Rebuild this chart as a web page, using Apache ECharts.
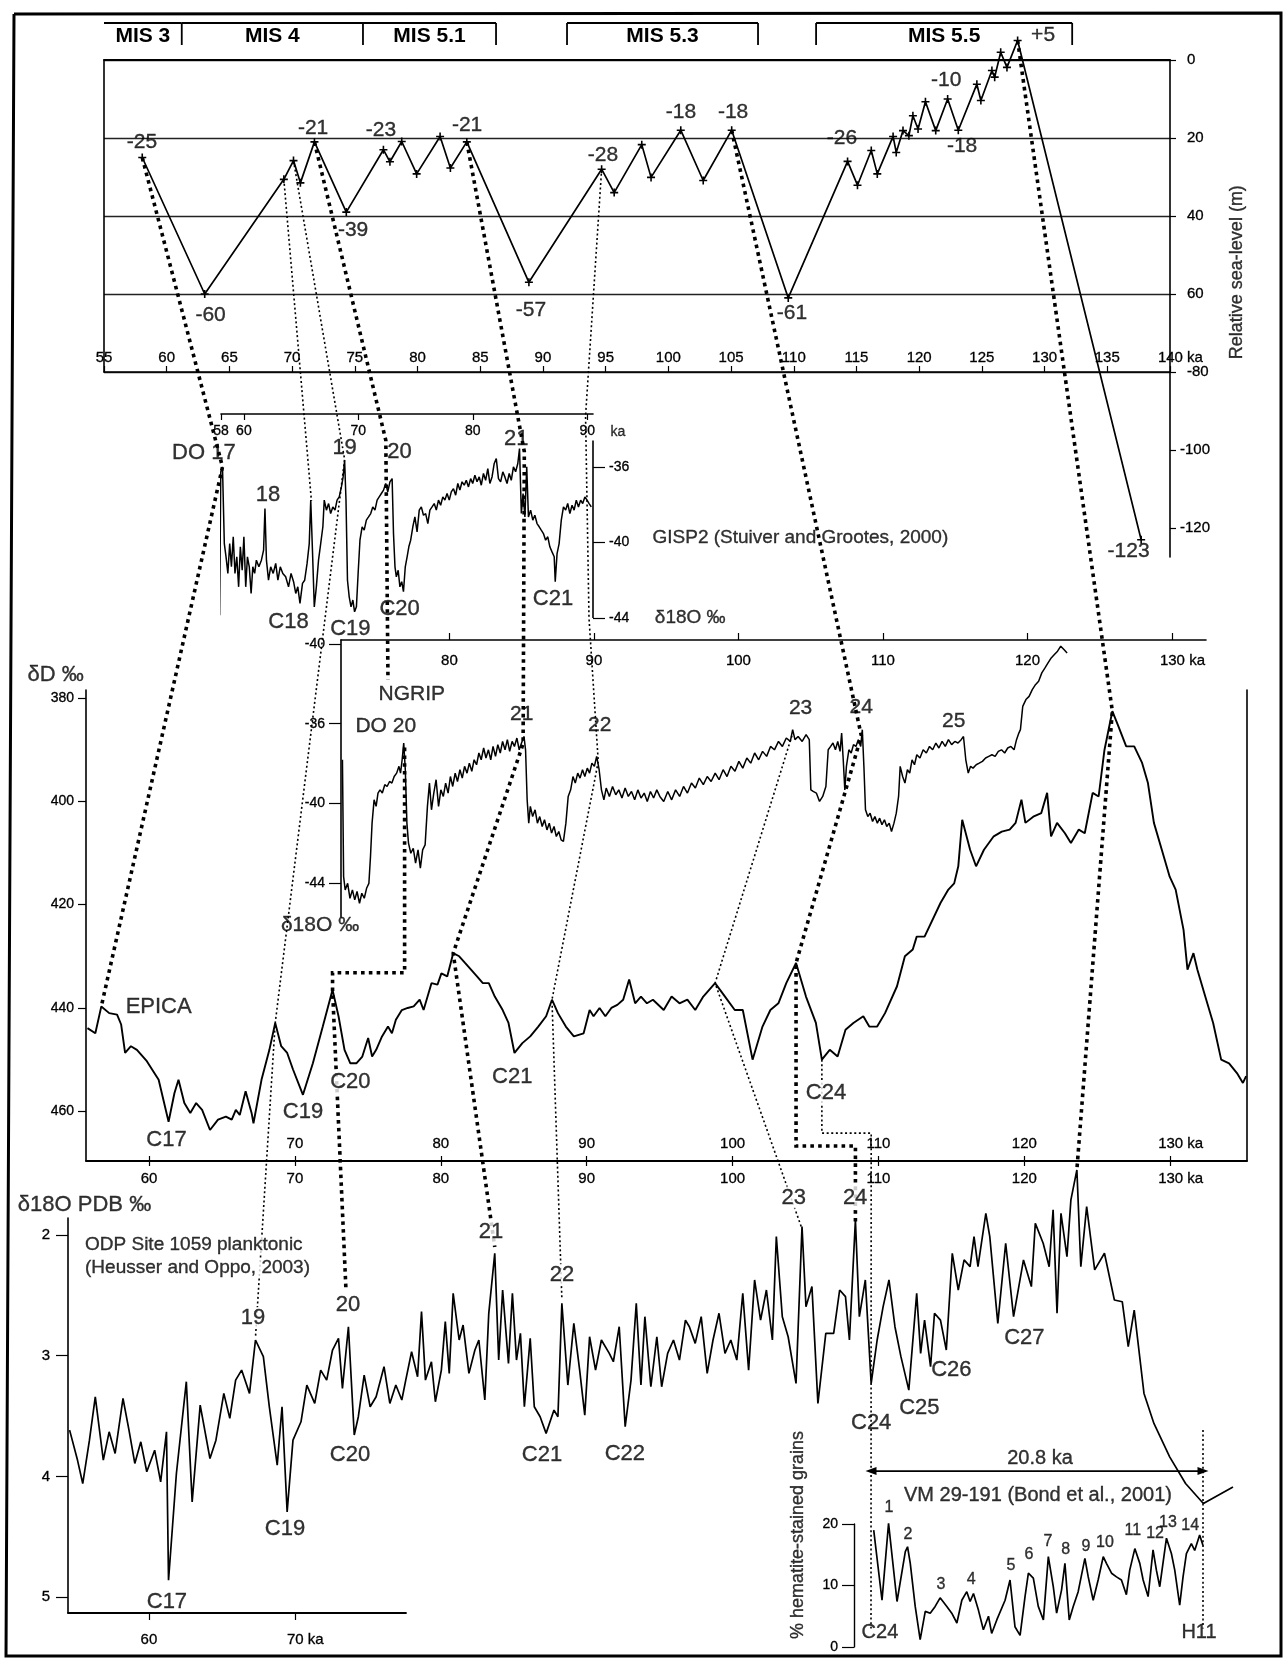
<!DOCTYPE html>
<html><head><meta charset="utf-8">
<script src="https://cdn.jsdelivr.net/npm/echarts@6.0.0/dist/echarts.min.js"></script>
<style>html,body{margin:0;padding:0;background:#fff}#c{width:1284px;height:1659px}</style>
</head><body><div id="c"></div>
<script>
// ---------------- DATA ----------------
// MIS header
const misName = ['MIS 3','MIS 4','MIS 5.1','MIS 5.3','MIS 5.5'];
const misStart = [55, 61.2, 75.65, 91.92, 111.78];
const misEnd = [61.2, 75.65, 86.26, 107.15, 132.2];
const misLeftTick = [0,0,0,1,1];
const misRightTick = [1,1,1,1,1];

// Relative sea level (ka, m)
const seaAge = [58.05,63.03,69.34,70.11,70.66,71.78,74.32,77.28,77.80,78.74,79.93,81.80,82.62,83.93,88.88,94.68,95.68,97.88,98.62,100.99,102.78,105.05,109.56,114.29,115.08,116.18,116.66,117.92,118.17,118.71,119.18,119.50,119.91,120.50,121.32,122.27,123.12,124.60,124.92,125.80,126.02,126.50,127.00,127.85,137.7];
const seaLevel = [-25,-60,-30.6,-25.8,-31.5,-21,-39,-23,-26.1,-20.9,-29.2,-19.6,-27.7,-21,-57,-28,-34,-21.7,-30.1,-18,-30.9,-18,-61,-26,-32.1,-23.2,-29.2,-19.6,-23.7,-18.1,-19.4,-14.3,-17.7,-10.7,-18.1,-10,-18,-6.2,-10.4,-2.7,-4.4,2.0,-1.9,5,-123];
const seaRightTicks = [-100,-120];
const seaNotes = [[58.03,-21.0,'-25'],[63.5,-65.4,'-60'],[71.67,-17.4,'-21'],[74.86,-43.6,'-39'],[77.09,-17.9,'-23'],[83.95,-16.7,'-21'],[89.05,-64.1,'-57'],[94.79,-24.4,'-28'],[101.0,-13.3,'-18'],[105.16,-13.3,'-18'],[109.86,-64.9,'-61'],[113.85,-20.0,'-26'],[122.16,-5.1,'-10'],[123.42,-22.2,'-18'],[129.88,6.4,'+5']];
const seaExtNotes = [[136.7,-126.1,'-123']];
const seaTitle = [[145.35,-54.4,'Relative sea-level (m)']];

// GISP2 δ18O (ka, ‰)
const gisp2 = [[57.88,-43.85],[57.98,-36.26],[58.13,-36.0],[58.29,-40.06],[58.44,-40.76],[58.60,-41.64],[58.76,-40.06],[58.91,-41.29],[59.07,-39.70],[59.22,-41.64],[59.38,-40.76],[59.54,-42.35],[59.69,-40.23],[59.85,-41.47],[60.00,-39.70],[60.16,-42.35],[60.31,-40.76],[60.47,-41.29],[60.63,-42.70],[60.78,-41.29],[60.94,-41.64],[61.09,-40.94],[61.31,-41.29],[61.53,-40.94],[61.72,-40.41],[61.84,-38.20],[61.97,-40.94],[62.15,-42.00],[62.34,-41.29],[62.56,-41.64],[62.78,-41.11],[62.97,-42.00],[63.18,-41.29],[63.40,-41.64],[63.65,-41.82],[63.90,-42.35],[64.12,-41.64],[64.34,-42.08],[64.53,-42.70],[64.71,-42.35],[64.90,-43.23],[65.12,-42.17],[65.31,-42.00],[65.52,-41.11],[65.71,-40.06],[65.84,-37.76],[65.99,-40.41],[66.15,-43.41],[66.33,-42.35],[66.52,-40.94],[66.71,-40.06],[66.90,-39.17],[67.02,-37.76],[67.21,-38.29],[67.40,-37.94],[67.58,-38.47],[67.77,-38.12],[67.96,-38.29],[68.14,-37.76],[68.33,-37.59],[68.52,-37.06],[68.67,-36.53],[68.80,-35.65],[68.92,-37.76],[69.05,-42.00],[69.20,-42.88],[69.36,-43.41],[69.52,-43.05],[69.67,-43.67],[69.83,-43.41],[69.98,-41.64],[70.14,-39.88],[70.33,-39.17],[70.51,-39.35],[70.70,-38.82],[70.89,-38.65],[71.08,-38.47],[71.26,-38.12],[71.45,-38.29],[71.64,-37.76],[71.82,-37.59],[72.01,-37.41],[72.20,-37.23],[72.39,-36.88],[72.57,-37.32],[72.76,-36.79],[72.95,-36.62],[73.07,-39.53],[73.20,-41.29],[73.32,-41.82],[73.48,-41.47],[73.63,-42.35],[73.79,-42.08],[73.94,-42.61],[74.10,-41.29],[74.26,-40.76],[74.41,-40.23],[74.57,-39.88],[74.76,-39.17],[74.94,-38.65],[75.13,-39.44],[75.32,-38.29],[75.50,-38.12],[75.69,-38.56],[75.88,-38.47],[76.07,-39.00],[76.25,-38.29],[76.44,-38.12],[76.63,-37.94],[76.81,-38.29],[77.00,-37.76],[77.19,-38.03],[77.38,-37.59],[77.56,-37.76],[77.75,-37.41],[77.94,-37.76],[78.12,-37.32],[78.31,-37.15],[78.50,-37.50],[78.69,-36.88],[78.87,-37.23],[79.06,-36.79],[79.25,-36.97],[79.43,-36.71],[79.62,-37.06],[79.81,-36.62],[79.99,-36.88],[80.18,-36.44],[80.37,-36.79],[80.56,-36.53],[80.74,-36.97],[80.93,-36.35],[81.12,-36.71],[81.31,-36.09],[81.49,-36.88],[81.68,-36.53],[81.87,-35.82],[82.05,-35.56],[82.24,-36.62],[82.43,-36.79],[82.62,-36.26],[82.80,-36.53],[82.99,-36.88],[83.18,-36.35],[83.36,-36.71],[83.55,-36.0],[83.74,-36.26],[83.93,-35.82],[84.08,-35.03],[84.24,-38.47],[84.39,-37.41],[84.55,-38.65],[84.71,-36.0],[84.86,-38.65],[85.05,-38.29],[85.24,-38.82],[85.42,-38.56],[85.61,-39.00],[85.80,-39.17],[85.98,-39.35],[86.17,-39.53],[86.36,-39.88],[86.55,-39.70],[86.73,-40.23],[86.92,-40.50],[87.11,-40.76],[87.20,-42.08],[87.36,-40.59],[87.54,-40.06],[87.73,-38.82],[87.92,-38.12],[88.11,-38.29],[88.29,-37.94],[88.48,-38.47],[88.67,-38.03],[88.85,-38.29],[89.04,-37.76],[89.23,-38.12],[89.42,-37.76],[89.60,-37.94],[89.79,-37.59],[89.98,-37.76],[90.16,-37.94],[90.35,-38.12]];
const gispTicksX = [58,60,70,80,90];
const gispTicksY = [-36,-40,-44];
const gispNotes = [[56.5,-35.26,'DO 17'],[62.1,-37.5,'18'],[68.8,-35.0,'19'],[73.6,-35.2,'20'],[83.8,-34.5,'21'],[63.9,-44.2,'C18'],[69.3,-44.6,'C19'],[73.6,-43.5,'C20'],[87.0,-43.0,'C21']];
const gispUnit = [[92.67,-34.15,'ka']];
const gispSource = [[95.7,-39.76,'GISP2 (Stuiver and Grootes, 2000)'],[95.9,-44.0,'δ18O ‰']];

// NGRIP δ18O (ka, ‰)
const ngrip = [[72.60,-37.81],[72.68,-43.67],[72.79,-44.34],[72.96,-44.01],[73.12,-44.76],[73.29,-44.34],[73.45,-44.84],[73.61,-44.42],[73.78,-45.01],[73.94,-44.51],[74.11,-44.76],[74.27,-44.26],[74.43,-44.01],[74.54,-42.67],[74.65,-40.99],[74.79,-39.82],[74.93,-40.15],[75.06,-39.48],[75.20,-39.32],[75.36,-39.48],[75.53,-39.06],[75.69,-39.15],[75.86,-38.90],[76.02,-38.98],[76.18,-38.65],[76.35,-38.48],[76.51,-38.14],[76.62,-38.48],[76.73,-37.81],[76.84,-36.97],[76.95,-38.31],[77.06,-40.99],[77.17,-41.99],[77.33,-42.50],[77.50,-42.25],[77.66,-43.00],[77.83,-42.33],[77.99,-43.25],[78.15,-42.33],[78.32,-42.08],[78.48,-40.15],[78.62,-38.98],[78.76,-40.32],[78.92,-39.48],[79.08,-38.81],[79.25,-40.15],[79.41,-39.32],[79.58,-39.65],[79.74,-38.98],[79.91,-39.48],[80.07,-38.65],[80.23,-39.15],[80.40,-38.48],[80.56,-38.90],[80.73,-38.31],[80.89,-38.73],[81.05,-38.14],[81.22,-38.48],[81.38,-37.98],[81.55,-38.39],[81.71,-37.81],[81.88,-38.06],[82.04,-37.47],[82.20,-37.81],[82.37,-37.22],[82.53,-37.72],[82.70,-37.31],[82.86,-37.81],[83.02,-37.14],[83.19,-37.64],[83.35,-37.05],[83.52,-37.47],[83.68,-36.89],[83.85,-37.31],[84.01,-36.80],[84.17,-37.39],[84.34,-36.89],[84.50,-37.14],[84.67,-36.72],[84.83,-37.31],[84.99,-36.97],[85.16,-36.64],[85.27,-37.31],[85.38,-39.82],[85.49,-40.99],[85.60,-40.15],[85.76,-40.66],[85.93,-40.32],[86.09,-40.99],[86.25,-40.66],[86.42,-41.16],[86.58,-40.82],[86.75,-41.33],[86.91,-40.99],[87.07,-41.49],[87.24,-41.16],[87.40,-41.66],[87.57,-41.41],[87.73,-41.83],[87.89,-41.91],[88.06,-40.99],[88.22,-39.65],[88.39,-39.32],[88.55,-38.65],[88.71,-38.98],[88.88,-38.48],[89.04,-38.73],[89.21,-38.31],[89.37,-38.65],[89.54,-38.23],[89.70,-38.48],[89.86,-37.98],[90.03,-38.14],[90.19,-37.64],[90.36,-38.31],[90.52,-39.32],[90.69,-39.82],[90.85,-39.23],[91.07,-39.65],[91.29,-39.15],[91.51,-39.57],[91.72,-39.32],[91.94,-39.73],[92.16,-39.23],[92.38,-39.65],[92.60,-39.40],[92.82,-39.82],[93.04,-39.32],[93.26,-39.73],[93.48,-39.48],[93.69,-39.90],[93.91,-39.40],[94.13,-39.73],[94.35,-39.32],[94.56,-39.65],[94.83,-39.90],[95.11,-39.40],[95.38,-39.82],[95.65,-39.32],[95.93,-39.65],[96.20,-39.15],[96.47,-39.48],[96.75,-38.98],[97.02,-39.23],[97.29,-38.73],[97.57,-39.06],[97.84,-38.65],[98.11,-38.90],[98.39,-38.48],[98.66,-38.81],[98.94,-38.31],[99.21,-38.65],[99.48,-38.14],[99.76,-38.39],[100.03,-37.89],[100.30,-38.23],[100.58,-37.72],[100.85,-37.98],[101.12,-37.47],[101.40,-37.81],[101.67,-37.39],[101.95,-37.64],[102.22,-37.14],[102.49,-37.31],[102.77,-36.89],[103.04,-37.14],[103.31,-36.72],[103.59,-36.89],[103.75,-36.30],[103.91,-36.80],[104.13,-36.64],[104.41,-36.89],[104.68,-36.55],[104.90,-36.80],[105.01,-39.32],[105.17,-39.40],[105.39,-39.48],[105.61,-39.90],[105.83,-39.65],[106.05,-39.15],[106.21,-37.31],[106.38,-37.14],[106.54,-36.97],[106.71,-37.31],[106.87,-36.89],[107.03,-37.39],[107.14,-36.47],[107.25,-37.81],[107.36,-39.32],[107.47,-38.14],[107.64,-37.31],[107.80,-37.47],[107.96,-37.05],[108.13,-37.14],[108.29,-36.80],[108.46,-37.14],[108.57,-36.30],[108.68,-38.14],[108.79,-40.32],[108.95,-40.66],[109.11,-40.49],[109.28,-40.91],[109.44,-40.66],[109.61,-40.99],[109.77,-40.74],[109.93,-41.07],[110.10,-40.82],[110.26,-41.16],[110.43,-40.99],[110.59,-41.41],[110.76,-40.99],[110.92,-40.49],[111.08,-39.65],[111.19,-38.14],[111.36,-38.65],[111.52,-38.98],[111.69,-38.31],[111.85,-38.48],[112.01,-37.81],[112.18,-38.06],[112.34,-37.56],[112.56,-37.72],[112.78,-37.31],[113.00,-37.47],[113.22,-37.14],[113.44,-37.31],[113.66,-36.97],[113.87,-37.22],[114.09,-36.89],[114.31,-37.14],[114.53,-36.80],[114.75,-37.05],[114.97,-36.89],[115.19,-36.97],[115.41,-36.80],[115.57,-36.64],[115.73,-37.81],[115.90,-38.48],[116.06,-38.14],[116.23,-38.23],[116.45,-38.06],[116.66,-37.98],[116.88,-37.89],[117.10,-37.72],[117.32,-37.64],[117.54,-37.56],[117.76,-37.64],[117.98,-37.39],[118.20,-37.31],[118.42,-37.47],[118.63,-37.22],[118.85,-37.14],[119.07,-37.31],[119.24,-36.80],[119.40,-36.47],[119.51,-36.30],[119.67,-35.13],[119.89,-34.79],[120.11,-34.63],[120.33,-34.29],[120.55,-34.04],[120.77,-33.87],[120.99,-33.45],[121.21,-33.20],[121.42,-32.95],[121.64,-32.70],[121.86,-32.53],[122.08,-32.36],[122.30,-32.11],[122.52,-32.28],[122.74,-32.45]];
const ngripTicksX = [80,90,100,110,120,130];
const ngripTicksY = [-32,-36,-40,-44];
const ngripTickText = ['-40','-36','-40','-44'];
const ngripNotes = [[77.4,-34.5,'NGRIP'],[75.6,-36.15,'DO 20'],[85.0,-35.5,'21'],[90.4,-36.1,'22'],[104.3,-35.2,'23'],[108.5,-35.15,'24'],[114.9,-35.85,'25'],[71.05,-46.1,'δ18O ‰']];

// EPICA δD (ka, ‰)
const epica = [[55.78,443.9],[56.32,444.9],[56.73,439.7],[57.27,441.0],[57.81,441.3],[58.09,443.2],[58.36,448.7],[58.76,447.4],[59.17,448.1],[59.85,450.3],[60.66,453.9],[61.34,462.0],[61.74,456.5],[62.02,453.9],[62.42,458.4],[62.83,460.3],[63.23,458.4],[63.64,459.7],[64.18,463.6],[64.73,461.6],[65.27,461.0],[65.67,461.6],[65.95,459.7],[66.22,460.7],[66.62,456.1],[67.03,460.3],[67.16,462.3],[67.71,453.9],[68.25,448.1],[68.65,442.9],[69.06,447.4],[69.47,448.7],[69.87,451.9],[70.55,456.8],[71.23,450.7],[71.91,443.6],[72.58,436.5],[72.99,441.6],[73.40,448.1],[73.80,450.7],[74.21,450.7],[74.62,449.4],[75.02,445.8],[75.29,449.4],[75.57,448.1],[75.97,445.5],[76.38,443.6],[76.65,444.9],[76.92,442.3],[77.33,440.4],[77.73,440.0],[78.14,439.7],[78.55,438.4],[78.82,440.4],[79.36,435.2],[79.77,435.5],[80.04,433.3],[80.44,433.9],[80.85,429.4],[81.26,430.0],[81.66,431.3],[82.07,432.6],[82.48,433.9],[82.88,435.2],[83.29,435.2],[83.70,437.8],[84.24,440.4],[84.64,442.9],[85.05,448.7],[85.59,446.8],[86.13,445.5],[86.68,443.6],[87.22,441.6],[87.62,438.4],[88.03,441.0],[88.57,443.6],[89.12,445.5],[89.79,444.9],[90.20,440.4],[90.47,441.6],[90.88,440.0],[91.28,441.6],[91.69,440.0],[92.10,439.4],[92.50,438.4],[92.91,434.5],[93.32,439.1],[93.72,437.8],[94.13,439.1],[94.54,438.4],[95.28,440.4],[95.82,437.8],[96.36,439.1],[96.90,438.4],[97.44,440.4],[97.99,437.8],[98.80,435.2],[99.48,437.8],[100.15,440.4],[100.70,440.4],[101.37,450.0],[102.05,443.6],[102.59,440.4],[103.14,439.1],[103.68,435.2],[104.35,431.3],[105.03,437.8],[105.71,442.9],[106.12,450.0],[106.66,448.1],[107.20,449.4],[107.74,444.2],[108.28,442.9],[108.96,441.6],[109.37,443.6],[109.91,443.6],[110.45,441.0],[111.27,435.8],[111.81,430.0],[112.35,428.7],[112.62,426.2],[113.16,426.2],[114.25,419.7],[114.79,417.1],[115.19,415.9],[115.47,412.6],[115.74,403.6],[116.28,409.4],[116.69,412.6],[117.23,409.4],[117.90,406.8],[118.45,405.9],[118.99,405.5],[119.40,404.2],[119.80,399.7],[120.07,404.2],[120.61,403.0],[121.16,402.3],[121.56,398.4],[121.83,406.8],[122.24,404.2],[122.78,406.2],[123.19,408.1],[123.73,405.5],[124.14,406.2],[124.68,398.4],[125.09,399.1],[125.49,390.1],[126.03,382.6],[126.44,385.5],[126.98,389.4],[127.53,389.4],[128.07,392.6],[128.47,396.5],[128.88,404.2],[129.42,409.4],[129.96,414.6],[130.37,417.1],[130.91,424.9],[131.18,432.6],[131.59,429.4],[131.86,432.6],[132.40,437.8],[132.94,442.9],[133.49,450.0],[134.03,450.7],[134.57,452.6],[134.98,454.5],[135.2,453.2]];
const epicaTicksY = [380,400,420,440,460];
const epicaTicksUpper = [70,80,90,100,110,120,130];
const epicaTicksLower = [60,70,80,90,100,110,120,130];
const epicaNotes = [[60.66,439.8,'EPICA'],[61.2,465.5,'C17'],[70.55,460.1,'C19'],[84.9,453.3,'C21'],[53.6,375.6,'δD ‰']];
const epicaNotesBg = [[73.8,454.3,'C20'],[106.4,456.4,'C24']];

// ODP Site 1059 planktonic δ18O (ka, ‰ PDB)
const odp = [[54.56,3.616],[55.10,3.864],[55.46,4.058],[55.92,3.699],[56.32,3.340],[56.87,3.864],[57.27,3.630],[57.68,3.809],[58.22,3.354],[58.63,3.616],[59.03,3.892],[59.44,3.713],[59.85,3.961],[60.39,3.782],[60.80,4.044],[61.20,3.630],[61.34,4.859],[61.88,3.975],[62.56,3.215],[62.96,4.210],[63.51,3.409],[64.18,3.851],[64.59,3.699],[65.13,3.312],[65.54,3.519],[65.94,3.202],[66.35,3.119],[66.89,3.312],[67.30,2.870],[67.84,3.008],[68.25,3.423],[68.79,3.906],[69.12,3.423],[69.47,4.293],[69.87,3.699],[70.42,3.547],[70.82,3.243],[71.36,3.395],[71.77,3.119],[72.18,3.202],[72.58,2.953],[72.99,2.856],[73.26,3.271],[73.67,2.760],[74.07,3.657],[74.35,3.505],[74.75,3.160],[75.16,3.423],[75.57,3.340],[76.11,3.091],[76.51,3.395],[76.92,3.243],[77.33,3.367],[77.60,3.202],[78.00,2.967],[78.41,3.174],[78.68,2.635],[78.95,3.202],[79.36,3.050],[79.63,3.381],[80.04,3.119],[80.31,2.718],[80.58,3.146],[80.85,2.484],[81.26,2.870],[81.53,2.746],[81.93,3.146],[82.34,2.953],[82.61,2.870],[83.02,3.367],[83.29,2.649],[83.70,2.152],[83.97,3.036],[84.24,2.456],[84.64,3.064],[84.91,2.484],[85.19,3.036],[85.46,2.815],[85.73,3.423],[86.13,2.856],[86.41,3.423],[86.81,3.505],[87.22,3.643],[87.76,3.450],[88.03,3.505],[88.30,2.566],[88.71,3.243],[89.12,2.732],[89.52,3.119],[89.87,3.492],[90.20,2.843],[90.61,3.119],[91.01,2.870],[91.55,2.981],[91.83,3.050],[92.23,2.760],[92.64,3.588],[93.04,3.202],[93.40,2.566],[93.72,3.243],[93.99,2.677],[94.40,3.257],[94.81,2.843],[95.14,3.257],[95.55,2.981],[95.95,2.870],[96.36,3.036],[96.77,2.705],[97.04,2.760],[97.44,2.898],[97.85,2.677],[98.26,3.146],[98.66,2.870],[99.07,2.649],[99.48,2.981],[99.88,2.870],[100.29,3.036],[100.70,2.484],[101.10,3.119],[101.51,2.373],[101.92,2.705],[102.32,2.456],[102.73,2.870],[103.00,2.014],[103.41,2.677],[103.81,2.843],[104.35,3.229],[104.76,1.931],[105.03,2.594],[105.44,2.428],[105.85,3.395],[106.39,2.815],[106.93,2.815],[107.34,2.456],[107.74,2.511],[108.01,2.870],[108.42,1.876],[108.69,2.677],[109.10,2.373],[109.50,3.229],[109.91,2.870],[110.32,2.594],[110.72,2.373],[111.13,2.760],[111.54,3.008],[112.08,3.285],[112.62,2.484],[112.89,2.981],[113.16,2.705],[113.57,3.091],[113.84,2.649],[114.25,2.705],[114.65,2.953],[115.06,2.152],[115.47,2.456],[115.87,2.207],[116.28,2.263],[116.55,2.014],[116.82,2.263],[117.36,1.821],[117.63,2.014],[118.18,2.732],[118.72,2.069],[119.26,2.677],[119.94,2.207],[120.48,2.428],[120.75,1.904],[121.29,2.069],[121.70,2.263],[121.97,1.793],[122.24,2.649],[122.51,1.821],[122.92,2.180],[123.19,1.710],[123.60,1.462],[123.87,2.263],[124.27,1.765],[124.82,2.290],[125.49,2.152],[126.17,2.539],[126.71,2.553],[127.12,2.925],[127.53,2.622],[128.20,3.312],[128.88,3.561],[129.96,3.837],[131.05,4.058],[132.27,4.224],[134.30,4.086]];
const odpTicksY = [2,3,4,5];
const odpTicksBottom = [60,70];
const odpNotes = [[61.23,5.04,'C17'],[69.32,4.43,'C19'],[73.78,3.82,'C20'],[86.94,3.82,'C21'],[92.62,3.81,'C22'],[109.5,3.56,'C24'],[112.8,3.43,'C25'],[115.0,3.12,'C26'],[120.0,2.85,'C27'],[55.58,1.75,'δ18O PDB ‰']];
const odpPeakNotes = [[67.13,2.688,'19'],[73.64,2.58,'20'],[83.44,1.975,'21'],[88.31,2.33,'22'],[104.2,1.69,'23'],[108.4,1.69,'24']];
const odpSource = [[55.48,2.083,'ODP Site 1059 planktonic'],[55.48,2.273,'(Heusser and Oppo, 2003)']];

// VM 29-191 hematite-stained grains (ka after C24, %)
const vm = [[0.17,19.0],[0.69,7.6],[1.10,20.1],[1.63,7.4],[2.15,15.5],[2.29,16.3],[2.46,13.6],[2.77,6.6],[3.08,1.2],[3.40,5.8],[3.71,5.5],[4.02,6.6],[4.33,8.0],[4.75,6.6],[5.06,5.5],[5.38,3.9],[5.69,7.6],[6.00,9.0],[6.21,7.4],[6.42,8.7],[6.73,6.0],[7.04,2.8],[7.36,5.0],[7.56,2.2],[7.88,4.4],[8.40,7.6],[8.71,10.9],[9.02,3.3],[9.34,1.9],[9.65,8.2],[9.86,12.0],[10.17,11.2],[10.48,6.6],[10.80,4.4],[11.11,14.7],[11.42,9.8],[11.63,5.5],[11.94,9.3],[12.15,13.6],[12.42,4.4],[12.67,6.6],[12.98,9.0],[13.40,14.4],[13.61,11.4],[13.92,7.6],[14.23,10.9],[14.55,14.7],[14.75,13.6],[15.07,12.0],[15.38,11.4],[15.69,10.9],[16.00,8.5],[16.21,12.5],[16.53,16.0],[16.84,13.6],[17.05,10.9],[17.36,8.2],[17.67,15.8],[17.88,12.5],[18.09,9.8],[18.51,17.7],[18.82,15.2],[19.03,12.5],[19.34,6.8],[19.55,11.4],[19.76,15.2],[20.07,16.8],[20.28,15.7],[20.59,18.2],[20.8,16.5]];
const vmSpan = [0, 20.8];
const vmSpanLevel = 28.6;
const vmNotes = [[10.59,30.7,'20.8 ka'],[10.46,24.7,'VM 29-191 (Bond et al., 2001)'],[0.56,2.3,'C24'],[20.55,2.3,'H11']];
const vmPeakNotes = [[1.13,22.6,'1'],[2.32,18.2,'2'],[4.39,10.1,'3'],[6.27,10.9,'4'],[8.77,13.3,'5'],[9.9,15.0,'6'],[11.09,17.1,'7'],[12.2,15.8,'8'],[13.47,16.3,'9'],[14.66,16.9,'10'],[16.4,19.0,'11'],[17.8,18.5,'12'],[18.6,20.2,'13'],[20.0,19.8,'14']];
const vmTitle = [[-4.57,18.2,'% hematite-stained grains']];

// Correlation tie lines: [panel, x, y]
const heavyLinks = [
 [['sea',58.05,-25],['gisp',58.13,-36.0],['epica',56.73,439.7]],
 [['sea',71.78,-21],['gisp',72.4,-34.6],['ngrip',75.75,-33.8]],
 [['ngrip',76.9,-37.2],['epica',77.52,433.2],['epica',72.58,433.2],['epica',72.58,436.5],['odp',73.5,2.45]],
 [['sea',83.93,-21],['gisp',84.5,-35.2],['ngrip',85.1,-37.0],['epica',80.85,429.4],['odp',83.7,2.1]],
 [['sea',105.05,-18],['ngrip',108.5,-36.6],['epica',104.35,431.3],['epica',104.35,466.7],['epica',108.42,466.7],['odp',108.42,1.9]],
 [['sea',127.85,5],['epica',126.03,382.6],['odp',123.6,1.46]]
];
const thinLinks = [
 [['sea',69.34,-30.6],['gisp',65.9,-37.8]],
 [['sea',70.11,-25.8],['gisp',68.8,-35.6],['epica',68.65,442.9],['odp',67.3,2.85]],
 [['sea',94.68,-28],['gisp',89.85,-33.3],['gisp',90.15,-44],['ngrip',90.3,-37.9],['epica',87.62,438.4],['odp',88.3,2.53]],
 [['ngrip',103.7,-36.6],['epica',98.8,435.2],['odp',104.76,1.95]],
 [['epica',106.12,450],['epica',106.12,464.2],['epica',109.5,464.2],['vm',0,3]],
 [['vm',20.8,35.3],['vm',20.8,3]]
];

// ---------------- CHART ----------------
const FONT = 'Liberation Sans, Arial, sans-serif';
const K = '#000';
const chart = echarts.init(document.getElementById('c'), null, {renderer:'canvas', width:1284, height:1659});

const lineSt = (w) => ({color:K, width:w||1.4});
function g(left, top, width, height){ return {left, top, width, height, containLabel:false, outerBoundsMode:'none'}; }
function hiddenX(gi, min, max){ return {type:'value', gridIndex:gi, min, max, show:false}; }
function hiddenY(gi, min, max, inv){ return {type:'value', gridIndex:gi, min, max, inverse:!!inv, show:false}; }
const lab = (size, extra) => Object.assign({show:true, color:K, fontFamily:FONT, fontSize:size||15, textBorderColor:K, textBorderWidth:0.3}, extra||{});
function kaFmt(last){ return v => v===last ? '     ' + v + ' ka' : String(v); }

function notes(arr, xi, yi, o){
  o = o || {};
  return {type:'scatter', xAxisIndex:xi, yAxisIndex:yi, symbol:'circle', symbolSize:1, clip:false, silent:true, z:6,
    itemStyle:{color:'rgba(0,0,0,0)'}, emphasis:{disabled:true},
    data: arr.map(d => ({name:d[2], value:[d[0], d[1]]})),
    label:{show:true, position:'inside', formatter:p => p.name, color:K, fontFamily:FONT,
      fontSize:o.size||22, fontWeight:o.weight||'normal', align:o.align||'center', verticalAlign:'middle',
      textBorderColor:K, textBorderWidth:0.35,
      rotate:o.rotate||0, backgroundColor:o.bg||'transparent', padding:o.bg?[0,2,0,2]:0}};
}

const option = {
  animation:false,
  backgroundColor:'#fff',
  grid:[
    g(104,23,1066,22),     // 0 MIS header
    g(104,60,1066,312),    // 1 sea level
    g(104,372,1066,185),   // 2 sea level extension
    g(221,414,372,204),    // 3 GISP2
    g(341,640,865,277),    // 4 NGRIP
    g(86,690,1161,471),    // 5 EPICA
    g(68,1218,1179,395),   // 6 ODP
    g(68,1218,338,395),    // 7 ODP bottom axis
    g(871,1524,332,123)    // 8 VM 29-191
  ],
  xAxis:[
    hiddenX(0,55,140),
    {type:'value', gridIndex:1, min:55, max:140, interval:5, position:'bottom',
      axisLine:{show:true, onZero:false, lineStyle:lineSt(1.6)},
      axisTick:{show:true, inside:true, length:6, lineStyle:lineSt(1.2)},
      axisLabel:lab(15,{inside:true, margin:7, formatter:kaFmt(140)}), splitLine:{show:false}},
    {type:'value', gridIndex:1, min:55, max:140, position:'top',
      axisLine:{show:true, onZero:false, lineStyle:lineSt(1.8)}, axisTick:{show:false}, axisLabel:{show:false}, splitLine:{show:false}},
    hiddenX(2,55,140),
    {type:'value', gridIndex:3, min:58, max:90.5, position:'top',
      axisLine:{show:true, onZero:false, lineStyle:lineSt(1.6)},
      axisTick:{show:true, inside:true, length:6, customValues:gispTicksX, lineStyle:lineSt(1.2)},
      axisLabel:lab(14,{inside:true, margin:10, customValues:gispTicksX}), splitLine:{show:false}},
    {type:'value', gridIndex:4, min:72.5, max:132.35, position:'top',
      axisLine:{show:true, onZero:false, lineStyle:lineSt(1.6)},
      axisTick:{show:true, inside:false, length:7, customValues:ngripTicksX, lineStyle:lineSt(1.2)},
      axisLabel:lab(15,{inside:true, margin:13, customValues:ngripTicksX, formatter:kaFmt(130)}), splitLine:{show:false}},
    {type:'value', gridIndex:5, min:55.68, max:135.26, position:'bottom',
      axisLine:{show:true, onZero:false, lineStyle:lineSt(1.8)},
      axisTick:{show:true, inside:true, length:5, customValues:epicaTicksLower, lineStyle:lineSt(1.2)},
      axisLabel:lab(15,{inside:true, margin:10, customValues:epicaTicksUpper, formatter:kaFmt(130)}), splitLine:{show:false}},
    {type:'value', gridIndex:5, min:55.68, max:135.26, position:'bottom',
      axisLine:{show:false, onZero:false},
      axisTick:{show:true, inside:false, length:5, customValues:epicaTicksLower, lineStyle:lineSt(1.2)},
      axisLabel:lab(15,{inside:false, margin:10, customValues:epicaTicksLower, formatter:kaFmt(130)}), splitLine:{show:false}},
    hiddenX(6,54.45,135.26),
    {type:'value', gridIndex:7, min:54.45, max:77.62, position:'bottom',
      axisLine:{show:true, onZero:false, lineStyle:lineSt(1.8)},
      axisTick:{show:true, inside:false, length:7, customValues:odpTicksBottom, lineStyle:lineSt(1.2)},
      axisLabel:lab(15,{margin:19, customValues:odpTicksBottom, formatter:kaFmt(70)}), splitLine:{show:false}},
    hiddenX(8,vmSpan[0],vmSpan[1])
  ],
  yAxis:[
    hiddenY(0,0,1),
    {type:'value', gridIndex:1, min:-80, max:0, interval:20, position:'right',
      axisLine:{show:true, onZero:false, lineStyle:lineSt(1.6)},
      axisTick:{show:true, inside:false, length:6, lineStyle:lineSt(1.2)},
      axisLabel:lab(15,{margin:17, formatter:v => v <= -80 ? String(v) : String(Math.abs(v))}),
      splitLine:{show:true, lineStyle:{color:'#222', width:1.4}}},
    {type:'value', gridIndex:1, min:-80, max:0, position:'left',
      axisLine:{show:true, onZero:false, lineStyle:lineSt(1.6)}, axisTick:{show:false}, axisLabel:{show:false}, splitLine:{show:false}},
    {type:'value', gridIndex:2, min:-127.5, max:-80, position:'right',
      axisLine:{show:true, onZero:false, lineStyle:lineSt(1.6)},
      axisTick:{show:true, inside:false, length:6, customValues:seaRightTicks, lineStyle:lineSt(1.2)},
      axisLabel:lab(15,{margin:10, customValues:seaRightTicks}), splitLine:{show:false}},
    {type:'value', gridIndex:3, min:-44, max:-33.2, position:'right',
      axisLine:{show:false, onZero:false},
      axisTick:{show:true, inside:false, length:12, customValues:gispTicksY, lineStyle:lineSt(1.2)},
      axisLabel:lab(14,{margin:16, customValues:gispTicksY}), splitLine:{show:false}},
    {type:'value', gridIndex:4, min:-45.7, max:-31.8, position:'left',
      axisLine:{show:true, onZero:false, lineStyle:lineSt(1.6)},
      axisTick:{show:true, inside:false, length:12, customValues:ngripTicksY, lineStyle:lineSt(1.2)},
      axisLabel:lab(14,{margin:16, customValues:ngripTicksY, formatter:v => ngripTickText[ngripTicksY.indexOf(v)]}), splitLine:{show:false}},
    {type:'value', gridIndex:5, min:378.5, max:469.6, inverse:true, position:'left',
      axisLine:{show:true, onZero:false, lineStyle:lineSt(1.6)},
      axisTick:{show:true, inside:false, length:8, customValues:epicaTicksY, lineStyle:lineSt(1.2)},
      axisLabel:lab(14,{margin:12, customValues:epicaTicksY}), splitLine:{show:false}},
    {type:'value', gridIndex:5, min:378.5, max:469.6, inverse:true, position:'right',
      axisLine:{show:true, onZero:false, lineStyle:lineSt(1.6)}, axisTick:{show:false}, axisLabel:{show:false}, splitLine:{show:false}},
    {type:'value', gridIndex:6, min:1.86, max:5.13, inverse:true, position:'left',
      axisLine:{show:true, onZero:false, lineStyle:lineSt(1.6)},
      axisTick:{show:true, inside:false, length:12, customValues:odpTicksY, lineStyle:lineSt(1.2)},
      axisLabel:lab(15,{margin:18, customValues:odpTicksY}), splitLine:{show:false}},
    hiddenY(7,1.86,5.13,true),
    {type:'value', gridIndex:8, min:0, max:20, interval:10, position:'left', offset:17,
      axisLine:{show:true, onZero:false, lineStyle:lineSt(1.4)},
      axisTick:{show:true, inside:false, length:12, lineStyle:lineSt(1.2)},
      axisLabel:lab(14,{margin:16}), splitLine:{show:false}}
  ],
  series:[
    {type:'custom', xAxisIndex:0, yAxisIndex:0, silent:true, clip:false,
      data: misStart.map((s,i) => [s, misEnd[i], misLeftTick[i], misRightTick[i]]),
      encode:{x:[0,1]},
      renderItem:(params, api) => {
        const cs = params.coordSys;
        const x0 = api.coord([api.value(0), 0])[0], x1 = api.coord([api.value(1), 0])[0];
        const yT = cs.y, yB = cs.y + cs.height;
        const st = {stroke:K, lineWidth:1.8};
        const ch = [{type:'line', shape:{x1:x0, y1:yT, x2:x1, y2:yT}, style:st}];
        if (api.value(2)) ch.push({type:'line', shape:{x1:x0, y1:yT, x2:x0, y2:yB}, style:st});
        if (api.value(3)) ch.push({type:'line', shape:{x1:x1, y1:yT, x2:x1, y2:yB}, style:st});
        ch.push({type:'text', style:{text:misName[params.dataIndex], x:(x0+x1)/2, y:(yT+yB)/2+2,
          align:'center', verticalAlign:'middle', font:'bold 21px Liberation Sans, Arial, sans-serif', fill:K}});
        return {type:'group', children:ch};
      }},
    {type:'line', xAxisIndex:1, yAxisIndex:1, clip:false, silent:true, z:4,
      data: seaAge.map((a,i) => [a, seaLevel[i]]),
      symbol:'path://M4,0L6,0L6,4L10,4L10,6L6,6L6,10L4,10L4,6L0,6L0,4L4,4Z', symbolSize:8, showSymbol:true,
      itemStyle:{color:K}, lineStyle:lineSt(1.7), emphasis:{disabled:true}},
    notes(seaNotes,1,1,{size:21}),
    notes(seaExtNotes,3,3,{size:21}),
    notes(seaTitle,1,1,{size:18, rotate:90}),
    {type:'line', xAxisIndex:4, yAxisIndex:4, data:gisp2, showSymbol:false, clip:false, silent:true,
      lineStyle:lineSt(1.5), emphasis:{disabled:true},
      markLine:{silent:true, symbol:['none','none'], label:{show:false}, lineStyle:{type:'solid', color:K, width:1.6},
        data:[[{coord:[90.5,-34.6]},{coord:[90.5,-44]}]]}},
    notes(gispNotes,4,4,{size:22}),
    notes(gispUnit,4,4,{size:14}),
    notes(gispSource,4,4,{size:19, align:'left'}),
    {type:'line', xAxisIndex:5, yAxisIndex:5, data:ngrip, showSymbol:false, clip:false, silent:true,
      lineStyle:lineSt(1.5), emphasis:{disabled:true}},
    notes(ngripNotes,5,5,{size:21}),
    {type:'line', xAxisIndex:6, yAxisIndex:6, data:epica, showSymbol:false, silent:true,
      lineStyle:lineSt(1.9), emphasis:{disabled:true}},
    notes(epicaNotes,6,6,{size:22}),
    notes(epicaNotesBg,6,6,{size:22, bg:'#fff'}),
    {type:'line', xAxisIndex:8, yAxisIndex:8, data:odp, showSymbol:false, clip:false, silent:true,
      lineStyle:lineSt(1.7), emphasis:{disabled:true}},
    notes(odpNotes,8,8,{size:22}),
    notes(odpPeakNotes,8,8,{size:22, bg:'#fff'}),
    notes(odpSource,8,8,{size:19, align:'left', bg:'#fff'}),
    {type:'line', xAxisIndex:10, yAxisIndex:10, data:vm, showSymbol:false, clip:false, silent:true,
      lineStyle:lineSt(1.7), emphasis:{disabled:true}},
    {type:'line', xAxisIndex:10, yAxisIndex:10, clip:false, silent:true, showSymbol:true,
      symbol:'triangle', symbolSize:[8,11], itemStyle:{color:K}, lineStyle:lineSt(1.8), emphasis:{disabled:true},
      data:[{value:[vmSpan[0], vmSpanLevel], symbolRotate:90}, {value:[vmSpan[1], vmSpanLevel], symbolRotate:-90}]},
    notes(vmNotes,10,10,{size:20}),
    notes(vmPeakNotes,10,10,{size:16}),
    notes(vmTitle,10,10,{size:18, rotate:90})
  ]
};
chart.setOption(option);

// ---- tie lines through each panel's own scales ----
const finders = {
  sea:{xAxisIndex:1, yAxisIndex:1}, gisp:{xAxisIndex:4, yAxisIndex:4}, ngrip:{xAxisIndex:5, yAxisIndex:5},
  epica:{xAxisIndex:6, yAxisIndex:6}, odp:{xAxisIndex:8, yAxisIndex:8}, vm:{xAxisIndex:10, yAxisIndex:10}
};
const toPix = p => chart.convertToPixel(finders[p[0]], [p[1], p[2]]);
const els = [];
heavyLinks.forEach((path, i) => els.push({type:'polyline', id:'h'+i, silent:true, z:1,
  shape:{points:path.map(toPix)}, style:{stroke:K, fill:null, lineWidth:3.6, lineDash:[3.6,4.2]}}));
thinLinks.forEach((path, i) => els.push({type:'polyline', id:'t'+i, silent:true, z:1,
  shape:{points:path.map(toPix)}, style:{stroke:K, fill:null, lineWidth:1.6, lineDash:[2,2.6]}}));
// page frame (scanned figure border)
els.push({type:'polyline', id:'frame', silent:true, z:1,
  shape:{points:[[14,14],[1281,13],[1281,1656],[6,1656],[14,14]]}, style:{stroke:K, fill:null, lineWidth:3}});
chart.setOption({graphic:{elements:els}});
</script>
</body></html>
